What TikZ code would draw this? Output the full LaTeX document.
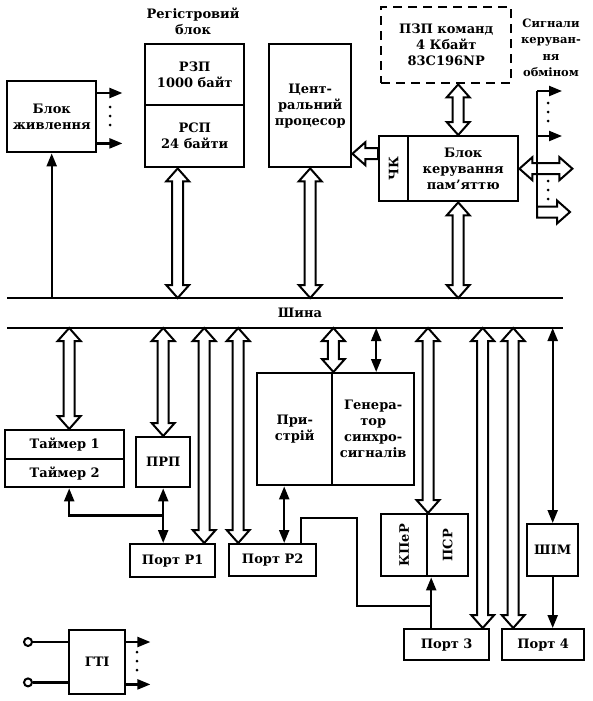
\documentclass[tikz,border=0pt]{standalone}
\usepackage{fontspec}
\setmainfont{DejaVu Serif}
\usetikzlibrary{arrows.meta,calc}
\newcommand\txt{\fontsize{13}{16}\selectfont\bfseries}
\newcommand\stxt{\fontsize{11.5}{16.5}\selectfont\bfseries}
\tikzset{
  box/.style={draw, line width=2.4pt, anchor=north west, inner sep=0pt, align=center, font=\txt, fill=white},
  plain/.style={inner sep=0pt, align=center, font=\txt},
  dashedbox/.style={dash pattern=on 9pt off 6pt},
  conn/.style={line width=2.2pt},
  farrow/.style={conn, -{Triangle[length=13pt,width=10pt]}},
  fdarrow/.style={conn, {Triangle[length=13pt,width=10pt]}-{Triangle[length=13pt,width=10pt]}},
  hollow/.style={draw, line width=2pt, fill=white, line join=miter},
  busline/.style={line width=2.6pt},
  dotc/.style={circle, fill, inner sep=0pt, minimum size=3pt}
}
\newcommand\hollowarrow[3]{%
  \path (#2); \pgfgetlastxy{\hax}{\hay}%
  \path (#3); \pgfgetlastxy{\hbx}{\hby}%
  \pgfmathsetmacro\hlen{veclen(\hbx-\hax,\hby-\hay)}%
  \pgfmathsetmacro\hang{atan2(\hby-\hay,\hbx-\hax)}%
  \pgfmathsetmacro\hend{\hlen-13}%
  \if b#1
    \draw[hollow, shift={(\hax,\hay)}, rotate=\hang] (0,0) -- (13,11.5) -- (13,5.5) -- (\hend,5.5) -- (\hend,11.5) -- (\hlen,0) -- (\hend,-11.5) -- (\hend,-5.5) -- (13,-5.5) -- (13,-11.5) -- cycle;
  \else
    \draw[hollow, shift={(\hax,\hay)}, rotate=\hang] (0,5.5) -- (\hend,5.5) -- (\hend,11.5) -- (\hlen,0) -- (\hend,-11.5) -- (\hend,-5.5) -- (0,-5.5) -- cycle;
  \fi
}
\newcommand\threedots[3]{% name prefix, x, y (top)
  \foreach \k in {0,1,2} { \node[dotc] (#1\k) at (#2,#3+9*\k) {}; }
}
\begin{document}
\begin{tikzpicture}[x=1pt,y=-1pt]
\useasboundingbox[fill=white] (0,0) rectangle (592,701);

% bus
\coordinate (busTL) at (7,298);  \coordinate (busTR) at (563,298);
\coordinate (busBL) at (7,328);  \coordinate (busBR) at (563,328);
\coordinate (bt) at (0,298); \coordinate (bb) at (0,328);
\draw[busline] (busTL) -- (busTR);
\draw[busline] (busBL) -- (busBR);
\node[plain] (bus) at (300,313) {Шина};

% upper blocks
\node[box,minimum width=89pt,minimum height=71pt] (pw) at (6,80) {Блок\\живлення};
\node[plain] (regt) at (193,21) {Регістровий\\блок};
\node[box,minimum width=99pt,minimum height=61pt] (rzp) at (144,43) {РЗП\\1000 байт};
\node[box,minimum width=99pt,minimum height=62pt] (rsp) at (144,104) {РСП\\24 байти};
\node[box,minimum width=82pt,minimum height=123pt] (cpu) at (268,43) {Цент-\\ральний\\процесор};
\node[box,dashedbox,minimum width=130pt,minimum height=76pt] (rom) at (380,6) {ПЗП команд\\4 Кбайт\\83C196NP};
\node[box,minimum width=29pt,minimum height=65pt] (ck) at (378,135) {};
\node[plain,rotate=90] (ckt) at (ck.center) {ЧК};
\node[box,minimum width=110pt,minimum height=65pt] (bkp) at (407,135) {Блок\\керування\\пам'яттю};
\node[plain,font=\stxt] (sig) at (551,48) {Сигнали\\керуван-\\ня\\обміном};

% lower blocks
\node[box,minimum width=119pt,minimum height=29pt] (t1) at (4,429) {Таймер 1};
\node[box,minimum width=119pt,minimum height=28pt] (t2) at (4,458) {Таймер 2};
\node[box,minimum width=54pt,minimum height=50pt] (prp) at (135,436) {ПРП};
\node[box,minimum width=85pt,minimum height=33pt] (p1) at (129,543) {Порт Р1};
\node[box,minimum width=87pt,minimum height=32pt] (p2) at (228,543) {Порт Р2};
\node[box,minimum width=75pt,minimum height=112pt] (dev) at (256,372) {При-\\стрій};
\node[box,minimum width=82pt,minimum height=112pt] (gen) at (331,372) {Генера-\\тор\\синхро-\\сигналів};
\node[box,minimum width=46pt,minimum height=62pt] (kper) at (380,513) {};
\node[plain,rotate=90] (kpert) at (kper.center) {КПеР};
\node[box,minimum width=41pt,minimum height=62pt] (psr) at (426,513) {};
\node[plain,rotate=90] (psrt) at (psr.center) {ПСР};
\node[box,minimum width=85pt,minimum height=31pt] (p3) at (403,628) {Порт 3};
\node[box,minimum width=82pt,minimum height=31pt] (p4) at (501,628) {Порт 4};
\node[box,minimum width=51pt,minimum height=52pt] (shim) at (526,523) {ШІМ};
\node[box,minimum width=56pt,minimum height=64pt] (gti) at (68,629) {ГТІ};

% power block
\draw[farrow] (pw.south |- bt) -- (pw.south);
\coordinate (pwo1) at ([yshift=-13pt]pw.north east);
\coordinate (pwo2) at ([yshift=10pt]pw.south east);
\draw[farrow] (pwo1) -- ++(25,0);
\draw[farrow] (pwo2) -- ++(25,0);
\threedots{pd}{110}{107}

% upper hollow arrows
\coordinate (ar) at ([xshift=-17pt]rsp.south);
\hollowarrow{b}{ar}{ar |- bt}
\hollowarrow{b}{cpu.south}{cpu.south |- bt}
\coordinate (ab) at ([xshift=-5pt]bkp.south);
\hollowarrow{b}{ab}{ab |- bt}
\coordinate (ar2) at ([xshift=12pt]rom.south);
\hollowarrow{b}{ar2}{ar2 |- bkp.north}
\coordinate (ack) at ([yshift=15pt]ck.west);
\hollowarrow{e}{ack}{ack -| cpu.east}

% exchange control signals
\coordinate (sv1) at (537,91);
\coordinate (sv3) at (537,136);
\coordinate (sv4) at (537,212);
\coordinate (sv2) at (537,217);
\hollowarrow{b}{bkp.east}{[xshift=53pt]bkp.east}
\hollowarrow{e}{sv4}{[xshift=33pt]sv4}
\draw[conn] (sv1) -- (sv2);
\draw[farrow] (sv1) -- ++(25,0);
\draw[farrow] (sv3) -- ++(25,0);
\threedots{sa}{548}{103}
\threedots{sb}{548}{181}

% lower hollow arrows
\coordinate (at1) at ([xshift=4.5pt]t1.north);
\hollowarrow{b}{at1 |- bb}{at1}
\hollowarrow{b}{prp.north |- bb}{prp.north}
\coordinate (al1) at ([xshift=31.5pt]p1.north);
\hollowarrow{b}{al1 |- bb}{al1}
\coordinate (al2) at ([xshift=-34.5pt]p2.north);
\hollowarrow{b}{al2 |- bb}{al2}
\hollowarrow{b}{dev.north east |- bb}{dev.north east}
\coordinate (ak) at ([xshift=2pt]psr.north west);
\hollowarrow{b}{ak |- bb}{ak}
\coordinate (al3) at ([xshift=36pt]p3.north);
\hollowarrow{b}{al3 |- bb}{al3}
\coordinate (al4) at ([xshift=-30pt]p4.north);
\hollowarrow{b}{al4 |- bb}{al4}

% lower filled arrows
\coordinate (ag) at ([xshift=3pt]gen.north);
\draw[fdarrow] (ag |- bb) -- (ag);
\draw[fdarrow] (shim.north |- bb) -- (shim.north);
\draw[farrow] (shim.south) -- (shim.south |- p4.north);
\coordinate (j1) at ([yshift=-27pt]prp.south);
\draw[fdarrow] (prp.south) -- (prp.south |- p1.north);
\coordinate (at2) at ([xshift=4.5pt]t2.south);
\draw[farrow] (j1) -| (at2);
\coordinate (ad) at ([xshift=-10.5pt]dev.south);
\draw[fdarrow] (ad) -- (ad |- p2.north);
\coordinate (ap2) at ([xshift=28.5pt]p2.north);
\coordinate (c1) at (357,518);
\coordinate (c2) at (430,606);
\coordinate (ap3) at ([xshift=-15.5pt]p3.north);
\draw[conn] (ap2) |- (c1) |- (c2);
\draw[farrow] (ap3) -- (ap3 |- psr.south);

% clock generator
\coordinate (gi1) at ([yshift=-13pt]gti.north west);
\coordinate (gi2) at ([yshift=13pt]gti.south west);
\node[circle,draw,line width=2pt,minimum size=8pt,inner sep=0pt,fill=white] (ci1) at ([xshift=-40pt]gi1) {};
\node[circle,draw,line width=2pt,minimum size=8pt,inner sep=0pt,fill=white] (ci2) at ([xshift=-40pt]gi2) {};
\draw[conn] (ci1) -- (gi1);
\draw[conn] (ci2) -- (gi2);
\coordinate (go1) at ([yshift=-13pt]gti.north east);
\coordinate (go2) at ([yshift=11pt]gti.south east);
\draw[farrow] (go1) -- ++(24,0);
\draw[farrow] (go2) -- ++(24,0);
\threedots{gd}{137}{652}
\end{tikzpicture}
\end{document}
